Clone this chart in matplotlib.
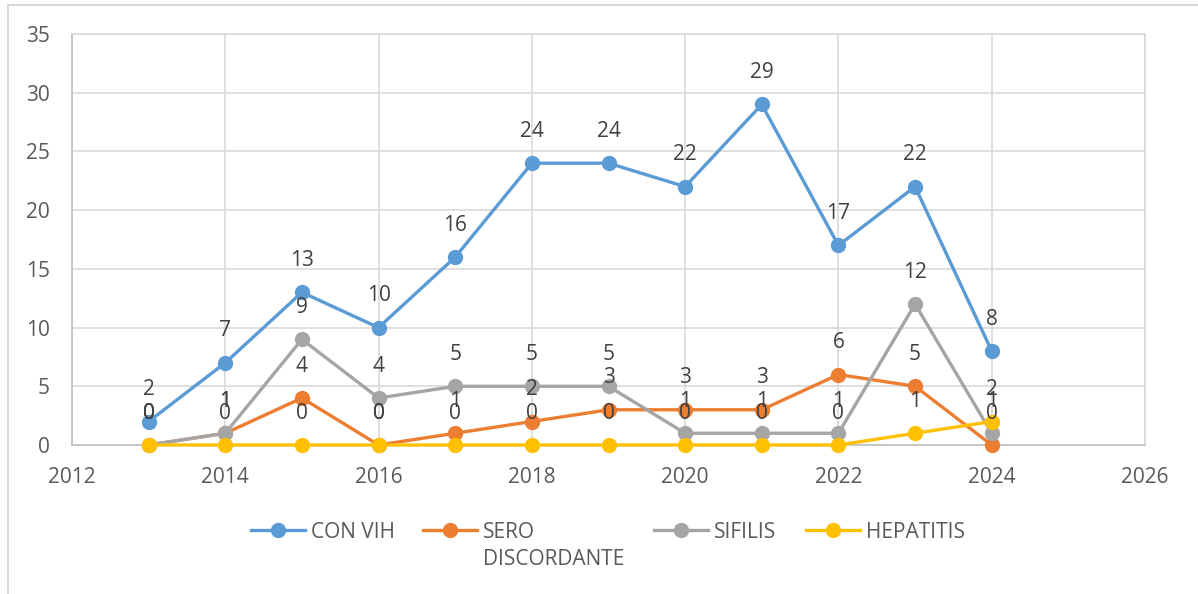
import matplotlib.pyplot as plt
from matplotlib.lines import Line2D

# ================= DATA =================
years = [2013, 2014, 2015, 2016, 2017, 2018, 2019, 2020, 2021, 2022, 2023, 2024]
con_vih = [2, 7, 13, 10, 16, 24, 24, 22, 29, 17, 22, 8]
sero_discordante = [0, 1, 4, 0, 1, 2, 3, 3, 3, 6, 5, 0]
sifilis = [0, 1, 9, 4, 5, 5, 5, 1, 1, 1, 12, 1]
hepatitis = [0, 0, 0, 0, 0, 0, 0, 0, 0, 0, 1, 2]

series_names = ["CON VIH", "SERO\nDISCORDANTE", "SIFILIS", "HEPATITIS"]
series_values = [con_vih, sero_discordante, sifilis, hepatitis]
colors = ["#5B9BD5", "#ED7D31", "#A5A5A5", "#FFC000"]

x_ticks = [2012, 2014, 2016, 2018, 2020, 2022, 2024, 2026]
y_ticks = [0, 5, 10, 15, 20, 25, 30, 35]

plt.rcParams['font.family'] = ['Open Sans', 'DejaVu Sans']

W, H = 1198, 594
fig = plt.figure(figsize=(W / 100, H / 100), dpi=100)
ax = fig.add_axes([72 / W, 1 - 445 / H, (1145 - 72) / W, (445 - 34) / H])

# ================= LINES =================
for i, (vals, col) in enumerate(zip(series_values, colors)):
    ax.plot(years, vals, color=col, lw=2.4, marker="o", markersize=10,
            zorder=3 + i, clip_on=False)

for vals in series_values:
    for x, y in zip(years, vals):
        ax.annotate(str(y), (x, y), xytext=(0, 23), textcoords="offset points",
                    ha="center", va="center", fontsize=15, color="#404040",
                    zorder=10)

# ================= AXES =================
ax.set_xlim(2012, 2026)
ax.set_ylim(0, 35)
ax.set_xticks(x_ticks)
ax.set_yticks(y_ticks)
ax.tick_params(axis="both", length=0, labelsize=15, labelcolor="#595959")
ax.tick_params(axis="x", pad=16)
ax.tick_params(axis="y", pad=16)
ax.grid(True, color="#D9D9D9", lw=1.2)
ax.set_axisbelow(True)
for side in ["top", "right"]:
    ax.spines[side].set_color("#D9D9D9")
for side in ["left", "bottom"]:
    ax.spines[side].set_color("#BFBFBF")
for sp in ax.spines.values():
    sp.set_linewidth(1.2)

# ================= LEGEND =================
leg_y = 1 - 530 / H
marker_x = [278, 450, 681, 833]
for name, col, mx in zip(series_names, colors, marker_x):
    fig.add_artist(Line2D([(mx - 27) / W, (mx + 27) / W], [leg_y, leg_y],
                          color=col, lw=2.4, transform=fig.transFigure))
    fig.add_artist(Line2D([mx / W], [leg_y], color=col, marker="o",
                          markersize=10, transform=fig.transFigure))
    fig.text((mx + 33) / W, leg_y + 8 / H, name, ha="left", va="top",
             fontsize=15, color="#595959", linespacing=1.4)

# outer chart frame (only top and left visible)
fig.add_artist(Line2D([8 / W, 1], [1 - 5 / H, 1 - 5 / H], color="#D9D9D9",
                      lw=1.5, transform=fig.transFigure))
fig.add_artist(Line2D([8 / W, 8 / W], [0, 1 - 5 / H], color="#D9D9D9",
                      lw=1.5, transform=fig.transFigure))

fig.savefig("out.png", dpi=100)
